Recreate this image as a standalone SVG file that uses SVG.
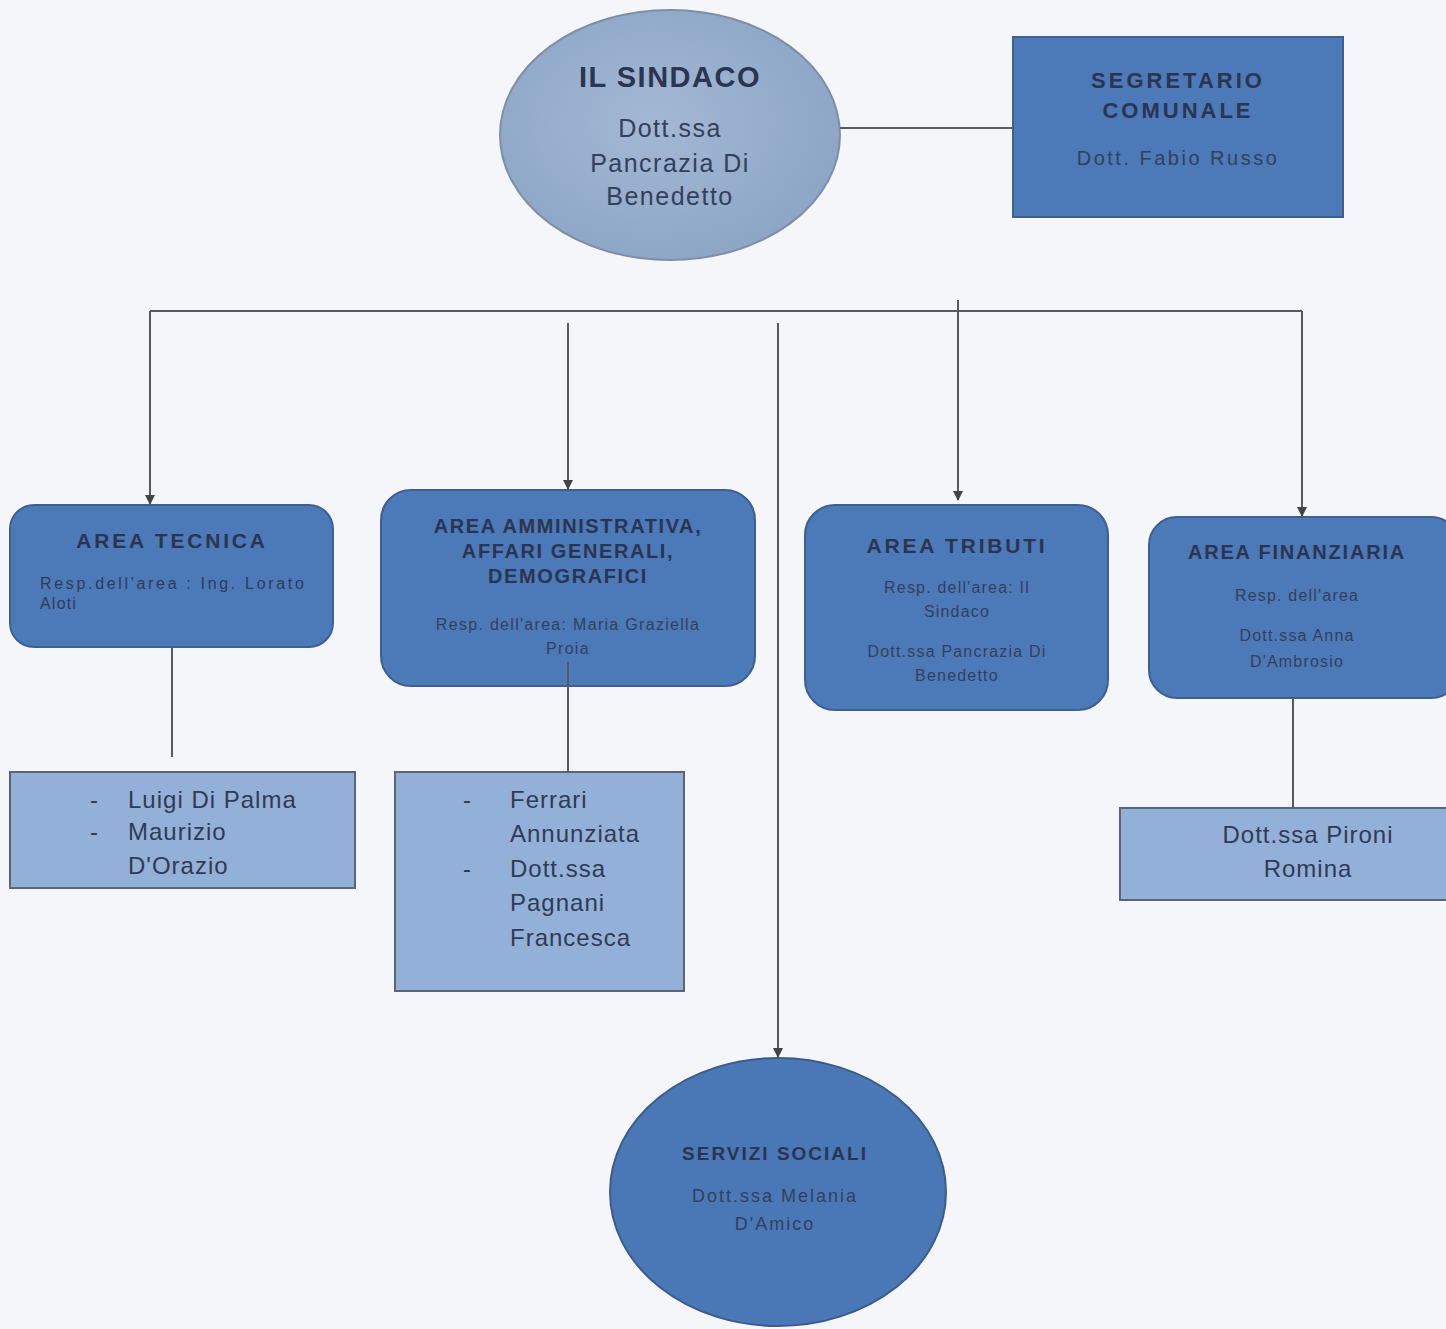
<svg xmlns="http://www.w3.org/2000/svg" width="1446" height="1329" viewBox="0 0 1446 1329">
<style>
text{font-family:"Liberation Sans",Arial,sans-serif;fill:#2b3450}
.t{font-weight:bold;text-anchor:middle}
.b{fill:#33405c;text-anchor:middle}
.r{fill:#2f3b58}
.s{font-size:24px;letter-spacing:1px;fill:#2f3b55}
.dark{fill:#4c79b8;stroke:#3d5f92;stroke-width:2}
.light{fill:#93b0d8;stroke:#5b6577;stroke-width:2}
.ln{stroke:#555a62;stroke-width:2;fill:none}
</style>
<defs>
<marker id="ar" viewBox="0 0 10 10" refX="9" refY="5" markerWidth="10" markerHeight="10" orient="auto" markerUnits="userSpaceOnUse">
<path d="M0,0 L10,5 L0,10 z" fill="#444"/>
</marker>
<radialGradient id="g1" cx="0.45" cy="0.45" r="0.6">
<stop offset="0" stop-color="#a3b8d4"/>
<stop offset="1" stop-color="#8ca5c6"/>
</radialGradient>
</defs>
<rect width="1446" height="1329" fill="#f4f6f9"/>

<g id="sindaco">
<ellipse cx="670" cy="135" rx="170" ry="125" fill="url(#g1)" stroke="#7e8ea6" stroke-width="2"/>
<text class="t" x="670" y="87" font-size="29" letter-spacing="1.5">IL SINDACO</text>
<text class="b" x="670" y="137" font-size="25" letter-spacing="1.5">Dott.ssa</text>
<text class="b" x="670" y="172" font-size="25" letter-spacing="1.5">Pancrazia Di</text>
<text class="b" x="670" y="205" font-size="25" letter-spacing="1.5">Benedetto</text>
</g>

<g id="segretario">
<rect class="dark" x="1013" y="37" width="330" height="180"/>
<text class="t" x="1178" y="88" font-size="22" letter-spacing="3">SEGRETARIO</text>
<text class="t" x="1178" y="118" font-size="22" letter-spacing="3">COMUNALE</text>
<text class="b" x="1178" y="165" font-size="20" letter-spacing="2.5">Dott. Fabio Russo</text>
</g>

<g id="area-tecnica">
<rect class="dark" x="10" y="505" width="323" height="142" rx="24"/>
<text class="t" x="172" y="548" font-size="21" letter-spacing="2.8">AREA TECNICA</text>
<text class="r" x="40" y="589" font-size="16" letter-spacing="1.2" textLength="265" lengthAdjust="spacing">Resp.dell'area :  Ing.  Lorato</text>
<text class="r" x="40" y="609" font-size="16" letter-spacing="1.2">Aloti</text>
</g>

<g id="area-amministrativa">
<rect class="dark" x="381" y="490" width="374" height="196" rx="30"/>
<text class="t" x="568" y="533" font-size="20" letter-spacing="1.6">AREA AMMINISTRATIVA,</text>
<text class="t" x="568" y="558" font-size="20" letter-spacing="1.6">AFFARI GENERALI,</text>
<text class="t" x="568" y="583" font-size="20" letter-spacing="1.6">DEMOGRAFICI</text>
<text class="b" x="568" y="630" font-size="16" letter-spacing="1.3">Resp. dell'area: Maria Graziella</text>
<text class="b" x="568" y="654" font-size="16" letter-spacing="1.3">Proia</text>
</g>

<g id="area-tributi">
<rect class="dark" x="805" y="505" width="303" height="205" rx="30"/>
<text class="t" x="957" y="553" font-size="21" letter-spacing="2.8">AREA TRIBUTI</text>
<text class="b" x="957" y="593" font-size="16" letter-spacing="1.2">Resp. dell'area: Il</text>
<text class="b" x="957" y="617" font-size="16" letter-spacing="1.2">Sindaco</text>
<text class="b" x="957" y="657" font-size="16" letter-spacing="1.2">Dott.ssa Pancrazia Di</text>
<text class="b" x="957" y="681" font-size="16" letter-spacing="1.2">Benedetto</text>
</g>

<g id="area-finanziaria">
<rect class="dark" x="1149" y="517" width="310" height="181" rx="28"/>
<text class="t" x="1297" y="559" font-size="20" letter-spacing="1.8">AREA FINANZIARIA</text>
<text class="b" x="1297" y="601" font-size="16" letter-spacing="1.2">Resp. dell'area</text>
<text class="b" x="1297" y="641" font-size="16" letter-spacing="1.2">Dott.ssa Anna</text>
<text class="b" x="1297" y="667" font-size="16" letter-spacing="1.2">D'Ambrosio</text>
</g>

<g id="tecnica-staff">
<rect class="light" x="10" y="772" width="345" height="116"/>
<text class="s" x="90" y="808">-</text>
<text class="s" x="128" y="808">Luigi Di Palma</text>
<text class="s" x="90" y="840">-</text>
<text class="s" x="128" y="840">Maurizio</text>
<text class="s" x="128" y="874">D'Orazio</text>
</g>

<g id="amministrativa-staff">
<rect class="light" x="395" y="772" width="289" height="219"/>
<text class="s" x="463" y="808">-</text>
<text class="s" x="510" y="808">Ferrari</text>
<text class="s" x="510" y="842">Annunziata</text>
<text class="s" x="463" y="877">-</text>
<text class="s" x="510" y="877">Dott.ssa</text>
<text class="s" x="510" y="911">Pagnani</text>
<text class="s" x="510" y="946">Francesca</text>
</g>

<g id="finanziaria-staff">
<rect class="light" x="1120" y="808" width="340" height="92"/>
<text class="s" x="1308" y="843" text-anchor="middle">Dott.ssa Pironi</text>
<text class="s" x="1308" y="877" text-anchor="middle">Romina</text>
</g>

<g id="servizi-sociali">
<ellipse cx="778" cy="1192" rx="168" ry="134" fill="#4a77b6" stroke="#3a5b8c" stroke-width="2"/>
<text class="t" x="775" y="1160" font-size="19" letter-spacing="2">SERVIZI SOCIALI</text>
<text class="b" x="775" y="1202" font-size="18" letter-spacing="2">Dott.ssa Melania</text>
<text class="b" x="775" y="1230" font-size="18" letter-spacing="2">D'Amico</text>
</g>

<g id="connectors">
<line class="ln" x1="840" y1="128" x2="1013" y2="128" stroke="#8a939e"/>
<polyline class="ln" points="150,311 1302,311"/>
<line class="ln" x1="150" y1="311" x2="150" y2="504" marker-end="url(#ar)"/>
<line class="ln" x1="568" y1="323" x2="568" y2="489" marker-end="url(#ar)"/>
<line class="ln" x1="778" y1="323" x2="778" y2="1057" marker-end="url(#ar)"/>
<line class="ln" x1="958" y1="300" x2="958" y2="500" marker-end="url(#ar)"/>
<line class="ln" x1="1302" y1="311" x2="1302" y2="516" marker-end="url(#ar)"/>
<line class="ln" x1="172" y1="648" x2="172" y2="757"/>
<line class="ln" x1="568" y1="662" x2="568" y2="772"/>
<line class="ln" x1="1293" y1="699" x2="1293" y2="808" stroke="#8a939e"/>
</g>
</svg>
